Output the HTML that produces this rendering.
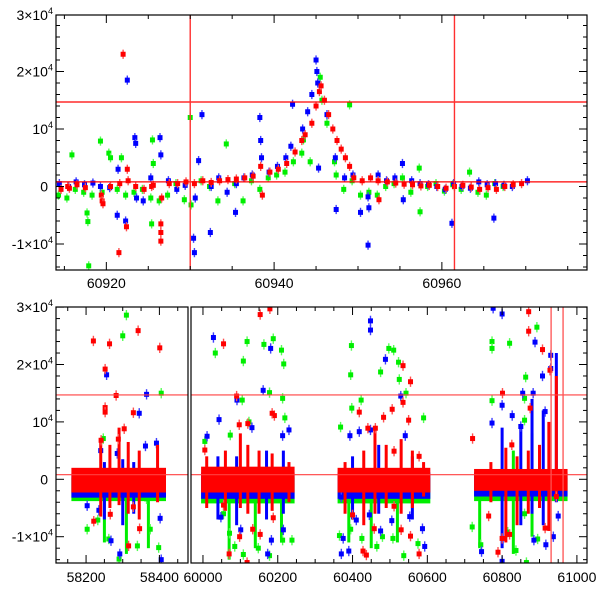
<!DOCTYPE html>
<html><head><meta charset="utf-8"><style>
html,body{margin:0;padding:0;background:#fff}
svg{display:block}
text{font-family:"Liberation Sans",Helvetica,sans-serif;font-size:14px;fill:#000}
</style></head><body>
<svg id="chart" width="600" height="600" viewBox="0 0 600 600" xmlns="http://www.w3.org/2000/svg">
<g id="top"></g>
<g id="bot"></g>
</svg>
<script>
// ---------------- TOP PANEL DATA ----------------
const topRedX=[60914.6,60915.4,60915.6,60916.5,60917.5,60919.4,60919.5,60919.6,60920.5,60921.5,60921.6,60922.0,60922.4,60922.5,60922.6,60923.5,60924.5,60925.4,60925.6,60926.5,60926.5,60926.5,60926.6,60927.5,60928.5,60929.5,60930.5,60931.5,60932.5,60933.5,60934.5,60935.5,60936.5,60937.5,60938.4,60938.6,60939.5,60940.5,60941.5,60942.5,60943.3,60943.7,60944.5,60945.0,60945.4,60945.6,60946.0,60946.5,60947.0,60947.5,60948.0,60948.5,60949.0,60949.5,60950.5,60951.5,60952.4,60952.5,60953.5,60954.5,60955.5,60956.5,60957.5,60958.5,60959.5,60960.5,60961.5,60962.5,60963.5,60964.5,60965.5,60966.5,60967.5,60968.5,60969.5];
const topRedY=[-500,0,-300,300,-200,-1500,-2500,-3000,0,-11500,500,23000,-7000,3000,1000,0,-500,0,200,-6500,-8000,-9500,-2000,500,500,800,500,1000,700,1000,1200,1300,1500,1800,3500,-1500,2500,3000,4000,6000,8000,9000,11000,14000,16500,17500,15000,12500,10000,8000,6500,5000,3500,1500,1000,1500,1000,-2300,800,600,400,300,100,200,0,-300,0,200,-100,-500,-200,-500,0,300,500];
const topBlueX=[60914.4,60915.5,60916.4,60917.4,60918.4,60919.3,60920.4,60921.3,60921.4,60922.3,60922.5,60923.4,60923.5,60923.6,60924.4,60925.3,60926.4,60926.5,60927.4,60928.4,60929.4,60930.4,60930.5,60930.6,60931.0,60931.4,60932.4,60932.5,60933.4,60934.4,60935.4,60935.5,60936.4,60937.4,60938.3,60938.4,60938.5,60939.4,60940.4,60941.4,60942.0,60942.2,60943.4,60944.0,60944.5,60945.0,60945.1,60945.2,60945.3,60946.3,60947.3,60947.4,60948.4,60949.4,60950.3,60951.2,60951.3,60951.2,60952.4,60953.4,60954.4,60955.3,60955.4,60956.4,60957.4,60958.4,60959.4,60960.4,60961.2,60961.4,60962.4,60963.4,60964.4,60965.4,60966.2,60966.4,60967.4,60968.4,60970.2];
const topBlueY=[500,0,800,300,600,0,-200,-5000,3000,-6000,18500,8500,7500,-2000,-2500,1500,8500,5500,1000,-500,200,-9000,-11500,-2000,4500,12500,-8000,0,1500,-1000,-4500,500,1500,2000,12000,8000,5000,2500,3500,5000,7000,14300,10000,13000,16000,22000,20000,18000,3200,12500,5000,-4000,1500,2000,-4500,-1800,-3700,-10200,2000,1000,1500,4000,-2300,1000,500,300,0,-500,-6400,500,0,-300,800,300,-5500,500,200,0,1000];
const topGreenX=[60914.3,60915.3,60915.9,60916.3,60917.3,60917.7,60917.8,60917.9,60918.3,60919.3,60919.5,60920.3,60920.5,60921.3,60921.8,60922.3,60923.3,60924.3,60925.3,60925.5,60925.6,60925.4,60926.3,60927.3,60928.3,60929.3,60930.0,60930.1,60931.3,60932.3,60933.3,60934.3,60935.3,60936.3,60937.3,60938.3,60939.3,60940.3,60941.3,60942.3,60943.3,60943.5,60944.3,60945.5,60945.7,60946.3,60947.2,60947.4,60948.3,60949.0,60949.3,60950.3,60951.3,60952.3,60953.3,60954.3,60955.3,60956.3,60957.3,60957.4,60958.3,60959.3,60960.3,60961.3,60962.3,60963.3,60964.3,60965.3,60966.3,60967.3];
const topGreenY=[-1500,-2000,5500,-500,-1000,-4600,-6100,-13800,-1500,7900,-1000,5800,5000,-500,5000,-1500,-1000,-500,-2000,8100,4000,-6500,-2500,-1500,500,-2300,12000,-3200,1000,0,-2500,7400,500,-2500,1000,-500,1500,2000,2500,4300,5800,8100,4300,19000,15000,11000,4300,2000,-500,14200,1000,-1500,-1000,-1500,0,500,1500,-1000,3200,-4400,0,500,-800,300,-500,2500,-1000,-1500,500,0];
const topVLines=[60930,60961.5];
const hLines=[14700,800];
const topXTicks=[60920,60940,60960];
const yTicks=[-10000,0,10000,20000,30000];
const yTickLabels=["-1×10","0","10","2×10","3×10"];

// ---------------- BOTTOM PANEL DATA ----------------
const bandStart=[58160,59995,60360,60725];
const bandEnd=[58418,60245,60608,60975];
const greenBandLo=[-3800,-4200,-4200,-3800], greenBandHi=[300,300,300,300];
const blueBandLo=[-3200,-3400,-3400,-3000], blueBandHi=[1000,1200,1200,1200];
const redBandLo=[-2300,-2300,-2300,-2000], redBandHi=[2000,2200,2000,1800];
const redSpikeX=[58240,58265,58290,58315,58345,58395,60010,60060,60100,60120,60150,60185,60230,60380,60430,60460,60490,60530,60560,60590,60770,60810,60840,60870,60900,60925,60945];
const redSpikeLo=[-6500,-5000,-4500,-6000,-7000,-4000,-5000,-5500,-5000,-6000,-6000,-5500,-4000,-6000,-8000,-6000,-5000,-6000,-5000,-3000,-4000,-11000,-8000,-6000,-5000,-9000,-3000];
const redSpikeHi=[7000,6000,9000,6500,5000,6000,4000,5000,8000,6000,5000,4500,3000,3000,5000,9000,6000,7000,5000,3000,3000,5500,4000,5000,6000,10000,18000];
const blueSpikeX=[58250,58300,58330,60040,60090,60170,60215,60400,60470,60560,60800,60850,60880,60910,60945];
const blueSpikeLo=[-7000,-8000,-6000,-7000,-8000,-7000,-6000,-7000,-6000,-7000,-12000,-8000,-6000,-8000,-4000];
const blueSpikeHi=[3000,3500,3000,4000,4000,5000,5000,4000,6000,4000,9000,9000,14000,12000,22000];
const greenSpikeX=[58250,58310,58370,60070,60140,60210,60390,60450,60520,60740,60830,60880];
const greenSpikeLo=[-11000,-13000,-12000,-14000,-12000,-11000,-11000,-12000,-11000,-12000,-13000,-10000];
const greenSpikeHi=[-2000,-2000,-1000,-2000,-2000,-1000,-1000,-2000,-2000,-1000,5000,8000];
const botRedX=[58220,58264,58252,58252,58252,58282,58342,58329,58401,58304,58241,58288,58329,58346,58266,58221,58316,60055,60153,60179,60090,60191,60185,60097,60120,60005,60055,60070,60098,60133,60153,60118,60188,60418,60506,60535,60535,60555,60550,60483,60441,60461,60511,60578,60400,60428,60437,60458,60530,60555,60578,60511,60721,60801,60871,60871,60908,60875,60826,60764,60800,60820,60789,60915,60945,60928];
const botRedY=[24100,23600,19200,12500,11700,14600,25900,11600,22900,8800,6800,7000,-4800,-8600,-6100,-7300,-11600,23600,28700,29700,14500,11100,11500,9500,9700,5100,-4500,-13000,-10000,-8700,-9600,-14500,-6700,11700,12200,13400,19800,17000,10300,10800,8900,8900,4900,4000,-6200,-12500,-13200,-8600,-8800,-9900,-13000,-4700,7100,15000,29200,25800,22600,12400,6000,-6400,-10300,-9600,-12700,-8500,-3000,19000];
const botBlueX=[58256,58365,58345,58392,58362,58240,58203,58235,58268,58292,58402,58405,58285,60028,60043,60161,60181,60091,60131,60213,60230,60011,60048,60101,60183,60215,60173,60448,60448,60488,60529,60541,60393,60418,60448,60370,60375,60390,60370,60410,60445,60475,60505,60587,60593,60553,60800,60776,60888,60908,60930,60930,60855,60883,60827,60800,60773,60850,60915,60745,60800,60885,60937,60950,60917];
const botBlueY=[18200,14800,11500,6300,5800,5000,-4600,-5400,-10700,-13000,-6800,-14000,4500,24700,10400,15500,22800,13800,9000,7600,8600,7500,-6600,-8800,-10600,-8800,-13000,27600,26000,20900,14500,7600,7600,8300,8600,-3100,-10300,-12500,-13000,-7100,-6200,-9000,-7200,-8600,-11700,-6500,28800,29800,23900,18000,21600,19300,15000,15000,11100,12900,9800,9200,11800,-12600,-14300,-10600,-10000,-6400,-11400];
const botGreenX=[58310,58300,58405,58247,58203,58232,58262,58290,58340,58375,58398,58318,58365,60033,60118,60108,60163,60188,60210,60216,60178,60213,60105,60123,60219,60005,60073,60055,60071,60085,60108,60148,60213,60238,60178,60397,60395,60475,60497,60510,60523,60525,60543,60398,60423,60368,60590,60365,60395,60425,60465,60480,60508,60537,60575,60380,60773,60773,60820,60863,60893,60773,60860,60860,60720,60743,60815,60837,60865,60895,60860];
const botGreenY=[28600,25000,15000,7100,-8700,-7100,-10400,-13900,-11600,-8700,-11900,-2400,-3400,22000,24000,20600,23500,24500,22500,20100,15100,14100,13800,10000,10700,6600,7700,-6000,-9400,-11700,-13100,-12000,-10600,-10600,-13300,23300,18200,18700,22800,22500,20400,17400,15000,12400,13800,9100,10700,-9800,-8700,-10300,-11700,-10000,-10300,-13300,-11200,-3400,24000,22800,23700,17800,26500,13700,14100,10300,-8300,-11400,-9200,-12400,-14500,-10400,-6000];
const botVLines=[60931,60963];
const botXTicks=[58200,58400,60000,60200,60400,60600,60800,61000];

// ---------------- SCALES ----------------
const T={x0:60914,x1:60977.3,l:56,r:587,t:15,b:270,y0:186.5,k:57.5/10000};
function txs(v){return T.l+(v-T.x0)*(T.r-T.l)/(T.x1-T.x0);}
function tys(v){return T.y0-v*T.k;}
const B={t:307,b:563,y0:479.3,k:57.4/10000};
const seg=[{x0:58118,x1:58478,l:56,r:188},{x0:59968,x1:61027,l:191,r:587}];
function bseg(v){return v<59000?seg[0]:seg[1];}
function bxs(v){const s=bseg(v);return s.l+(v-s.x0)*(s.r-s.l)/(s.x1-s.x0);}
function bys(v){return B.y0-v*B.k;}

const NS="http://www.w3.org/2000/svg";
function mk(parent,tag,attrs){const e=document.createElementNS(NS,tag);for(const k in attrs)e.setAttribute(k,attrs[k]);parent.appendChild(e);return e;}
const COL={red:"#ff0000",green:"#00ee00",blue:"#0000ff"};
const ERRC={red:"#ff5050",green:"#55ff55",blue:"#4040ff"};

function drawPoints(g,xs,ys,xa,ya,col,err,top,bot,name){
  const grp=mk(g,"g",{});
  
  
  for(let i=0;i<xs.length;i++){
    const px=xa(xs[i]),py=ya(ys[i]);
    if(py<top-2||py>bot+2)continue;
    const e=Math.abs(ya(err)-ya(0));
    const ln=mk(grp,"line",{x1:px,x2:px,y1:Math.max(top,py-e),y2:Math.min(bot,py+e),stroke:ERRC[col],"stroke-width":1.4});
    
    
    const r=mk(grp,"rect",{x:px-2.5,y:py-2.5,width:5,height:5,fill:COL[col]});
    
    
  }
}

function yLabel(g,x,y,i){
  const t=mk(g,"text",{x:x,y:y+5,"text-anchor":"end"});
  
  
  const s=yTickLabels[i];
  t.appendChild(document.createTextNode(s));
  if(s!=="0"){const sp=mk(t,"tspan",{"font-size":"9","dy":"-6"});sp.textContent="4";}
  else t.setAttribute('x',x-5);
}

// ---------------- TOP PANEL ----------------
(function(){
  const g=document.getElementById('top');
  const clip=mk(g,"clipPath",{id:"ctop"});mk(clip,"rect",{x:T.l,y:T.t,width:T.r-T.l,height:T.b-T.t});
  const pg=mk(g,"g",{"clip-path":"url(#ctop)"});
  
  
  drawPoints(pg,topGreenX,topGreenY,txs,tys,"green",800,T.t,T.b,"top-green-series");
  drawPoints(pg,topBlueX,topBlueY,txs,tys,"blue",800,T.t,T.b,"top-blue-series");
  drawPoints(pg,topRedX,topRedY,txs,tys,"red",800,T.t,T.b,"top-red-series");
  hLines.forEach(v=>{const l=mk(g,"line",{x1:T.l,x2:T.r,y1:tys(v),y2:tys(v),stroke:"#ff0000","stroke-width":1.2});
    });
  topVLines.forEach(v=>{const l=mk(g,"line",{x1:txs(v),x2:txs(v),y1:T.t,y2:T.b,stroke:"#ff3030","stroke-width":1.4});
    });
  const f=mk(g,"rect",{x:T.l,y:T.t,width:T.r-T.l,height:T.b-T.t,fill:"none",stroke:"#000","stroke-width":1.2});
  
  for(let v=-14000;v<=30000;v+=2000){const py=tys(v);if(py<T.t||py>T.b)continue;const L=(v%10000===0)?8:4;
    mk(g,"line",{x1:T.l,x2:T.l+L,y1:py,y2:py,stroke:"#000"});mk(g,"line",{x1:T.r,x2:T.r-L,y1:py,y2:py,stroke:"#000"});}
  yTicks.forEach((v,i)=>yLabel(g,53,tys(v)<T.t+2?T.t:tys(v),i));
  for(let v=60915;v<=60975;v+=5){const px=txs(v);const L=(v%20===0)?8:4;
    mk(g,"line",{x1:px,x2:px,y1:T.b,y2:T.b-L,stroke:"#000"});mk(g,"line",{x1:px,x2:px,y1:T.t,y2:T.t+L,stroke:"#000"});}
  topXTicks.forEach(v=>{const t=mk(g,"text",{x:txs(v),y:288,"text-anchor":"middle"});t.textContent=v;
    });
})();

// ---------------- BOTTOM PANEL ----------------
(function(){
  const g=document.getElementById('bot');
  seg.forEach((s,si)=>{const c=mk(g,"clipPath",{id:"cb"+si});mk(c,"rect",{x:s.l,y:B.t,width:s.r-s.l,height:B.b-B.t});});
  const layers=[0,1].map(i=>{const l=mk(g,"g",{"clip-path":"url(#cb"+i+")"});
    return l;});
  function layer(v){return bseg(v)===seg[0]?layers[0]:layers[1];}
  function bands(lo,hi,col,name){
    for(let i=0;i<bandStart.length;i++){
      const x1=bxs(bandStart[i]),x2=bxs(bandEnd[i]);
      const r=mk(layer(bandStart[i]),"rect",{x:x1,y:bys(hi[i]),width:x2-x1,height:bys(lo[i])-bys(hi[i]),fill:COL[col]});
      
    }
  }
  function spikes(xs,lo,hi,col,name){
    for(let i=0;i<xs.length;i++){
      const px=bxs(xs[i]);
      const r=mk(layer(xs[i]),"rect",{x:px-1.5,y:bys(hi[i]),width:3,height:bys(lo[i])-bys(hi[i]),fill:COL[col]});
      
    }
  }
  function pts(xs,ys,col,name){
    const gs=[[],[]];
    for(let i=0;i<xs.length;i++){ (xs[i]<59000?gs[0]:gs[1]).push(i); }
    gs.forEach((idx,li)=>drawPoints(layers[li],idx.map(i=>xs[i]),idx.map(i=>ys[i]),bxs,bys,col,900,B.t,B.b,name));
  }
  bands(greenBandLo,greenBandHi,"green","green-band");
  spikes(greenSpikeX,greenSpikeLo,greenSpikeHi,"green","green-spike");
  pts(botGreenX,botGreenY,"green","bottom-green-series");
  bands(blueBandLo,blueBandHi,"blue","blue-band");
  spikes(blueSpikeX,blueSpikeLo,blueSpikeHi,"blue","blue-spike");
  pts(botBlueX,botBlueY,"blue","bottom-blue-series");
  bands(redBandLo,redBandHi,"red","red-band");
  spikes(redSpikeX,redSpikeLo,redSpikeHi,"red","red-spike");
  pts(botRedX,botRedY,"red","bottom-red-series");
  seg.forEach((s,si)=>{
    hLines.forEach(v=>{const l=mk(g,"line",{x1:s.l,x2:s.r,y1:bys(v),y2:bys(v),stroke:"#ff4040","stroke-width":1.2});
      });
  });
  botVLines.forEach(v=>{const l=mk(g,"line",{x1:bxs(v),x2:bxs(v),y1:B.t,y2:B.b,stroke:"#ff5050","stroke-width":1.3});
    });
  seg.forEach((s,si)=>{
    const f=mk(g,"rect",{x:s.l,y:B.t,width:s.r-s.l,height:B.b-B.t,fill:"none",stroke:"#000","stroke-width":1.2});
    
    const first=Math.ceil(s.x0/50)*50;
    for(let v=first;v<=s.x1;v+=50){const px=bxs(v);const L=(v%200===0)?8:4;
      mk(g,"line",{x1:px,x2:px,y1:B.b,y2:B.b-L,stroke:"#000"});mk(g,"line",{x1:px,x2:px,y1:B.t,y2:B.t+L,stroke:"#000"});}
  });
  for(let v=-14000;v<=30000;v+=2000){const py=bys(v);if(py<B.t||py>B.b)continue;const L=(v%10000===0)?8:4;
    mk(g,"line",{x1:seg[0].l,x2:seg[0].l+L,y1:py,y2:py,stroke:"#000"});mk(g,"line",{x1:seg[1].r,x2:seg[1].r-L,y1:py,y2:py,stroke:"#000"});}
  yTicks.forEach((v,i)=>yLabel(g,53,bys(v)<B.t+2?B.t:bys(v),i));
  botXTicks.forEach(v=>{const t=mk(g,"text",{x:bxs(v),y:582,"text-anchor":"middle"});t.textContent=v;
    });
})();
</script>
</body></html>
